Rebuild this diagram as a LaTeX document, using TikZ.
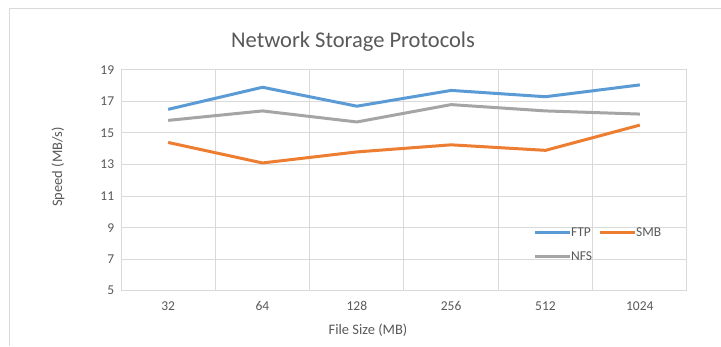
\documentclass[tikz,border=0pt]{standalone}
\usepackage{fontspec}
\setmainfont{Carlito}
\usepackage{tikz}
\usetikzlibrary{calc,positioning}
\definecolor{chartgrey}{RGB}{89,89,89}
\definecolor{gridgrey}{RGB}{217,217,217}
\definecolor{ftpblue}{RGB}{91,155,213}
\definecolor{smborange}{RGB}{237,125,49}
\definecolor{nfsgrey}{RGB}{165,165,165}
\tikzstyle{ticklabel}=[text=chartgrey,font=\fontsize{13.5}{16}\selectfont,inner sep=1pt]
\tikzstyle{axistitle}=[text=chartgrey,font=\fontsize{14.5}{17}\selectfont,inner sep=1pt]
\tikzstyle{gridline}=[draw=gridgrey,line width=1pt]
\tikzstyle{ftpline}=[draw=ftpblue,line width=3pt,line join=round]
\tikzstyle{smbline}=[draw=smborange,line width=3pt,line join=round]
\tikzstyle{nfsline}=[draw=nfsgrey,line width=3pt,line join=round]

\begin{document}
\begin{tikzpicture}[x=1pt,y=1pt]
\useasboundingbox[fill=white] (0,0) rectangle (721,346);
% chart frame (only left and top edges show)
\draw[gridgrey,line width=1pt] (9.5,0) -- (9.5,337.5) -- (721,337.5);
\node[text=chartgrey,font=\fontsize{22.5}{27}\selectfont] (title) at (353,304) {Network Storage Protocols};
\begin{scope}[shift={(121,55.3)},x=94.33pt,y=15.77pt]
% grid
\foreach \v in {0,2,...,14}
  \draw[gridline] (0,\v) -- (6,\v);
\foreach \c in {0,...,6}
  \draw[gridline] (\c,0) -- (\c,14);
% tick labels
\foreach \v in {5,7,...,19}
  \node[ticklabel,anchor=east] (y\v) at (-0.06,\v-5) {\v};
\foreach \lab [count=\i] in {32,64,128,256,512,1024}
  \node[ticklabel] (x\lab) at (\i-0.5,-0.95) {\lab};
% series
\draw[nfsline] plot coordinates {(0.5,10.8) (1.5,11.4) (2.5,10.7) (3.5,11.8) (4.5,11.4) (5.5,11.2)};
\draw[smbline] plot coordinates {(0.5,9.4) (1.5,8.1) (2.5,8.8) (3.5,9.25) (4.5,8.9) (5.5,10.5)};
\draw[ftpline] plot coordinates {(0.5,11.5) (1.5,12.9) (2.5,11.7) (3.5,12.7) (4.5,12.3) (5.5,13.05)};
\end{scope}
% axis titles
\node[axistitle] (xtitle) at (368,16) {File Size (MB)};
\node[axistitle,rotate=90] (ytitle) at (58,179) {Speed (MB/s)};
% legend
\node[ticklabel,anchor=west] (lftp) at (570,113.5) {FTP};
\node[ticklabel,anchor=west] (lsmb) at (635,113.5) {SMB};
\node[ticklabel,anchor=west] (lnfs) at (570,90) {NFS};
\draw[ftpline,line cap=butt] ($(lftp.west)+(-35,0)$) -- (lftp.west);
\draw[smbline,line cap=butt] ($(lsmb.west)+(-35,0)$) -- (lsmb.west);
\draw[nfsline,line cap=butt] ($(lnfs.west)+(-35,0)$) -- (lnfs.west);
\end{tikzpicture}
\end{document}
